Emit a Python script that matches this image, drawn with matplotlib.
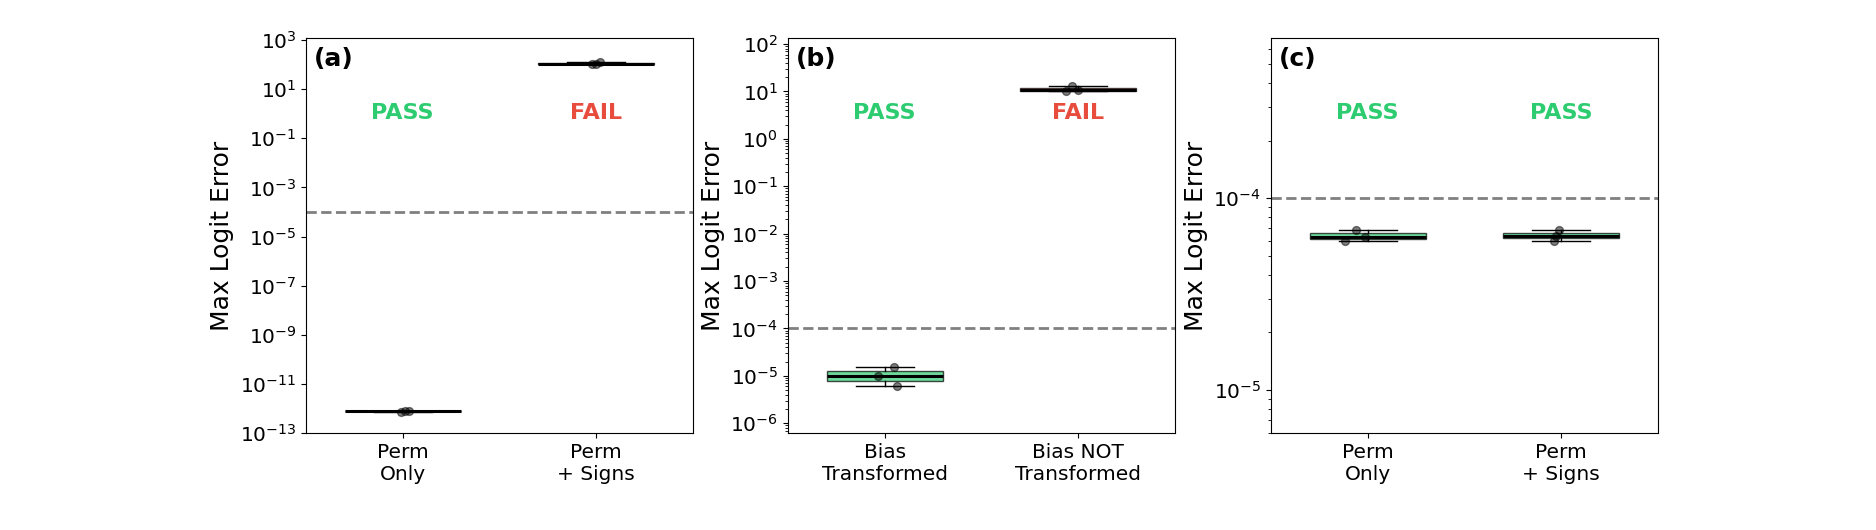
import numpy as np
import matplotlib
matplotlib.use('Agg')
from matplotlib import pyplot as plt
from matplotlib.ticker import NullLocator, LogLocator

# values
labels_a = ['Perm\nOnly', 'Perm\n+ Signs']
perm_only_a = [7.5e-13, 7.7e-13, 7.9e-13]
perm_signs_a = [104.0, 108.0, 128.0]
jitter_a = [[-0.01, 0.01, 0.03], [-0.02, 0.0, 0.02]]
status_a = ['PASS', 'FAIL']

labels_b = ['Bias\nTransformed', 'Bias NOT\nTransformed']
bias_tf_b = [1.52e-5, 9.7e-6, 6.2e-6]
bias_not_b = [10.2, 13.3, 10.6]
jitter_b = [[0.046, -0.036, 0.064], [-0.064, -0.03, 0.0]]
status_b = ['PASS', 'FAIL']

labels_c = ['Perm\nOnly', 'Perm\n+ Signs']
perm_only_c = [6.84e-5, 5.97e-5, 6.27e-5]
perm_signs_c = [6.84e-5, 6.38e-5, 5.97e-5]
jitter_c = [[-0.06, -0.115, -0.012], [-0.014, -0.028, -0.036]]
status_c = ['PASS', 'PASS']

threshold = 1e-4

PASS_COLOR = '#2ecc71'
FAIL_COLOR = '#e74c3c'

plt.rcParams['font.family'] = 'DejaVu Sans'


def draw_panel(ax, groups, jitters, statuses, labels, tag, ylim):
    bp = ax.boxplot(groups, positions=[0, 1], widths=0.6, patch_artist=True,
                    showfliers=False,
                    medianprops=dict(color='black', linewidth=2.2),
                    whiskerprops=dict(color='black', linewidth=1.0),
                    capprops=dict(color='black', linewidth=1.0))
    for box, st in zip(bp['boxes'], statuses):
        box.set_facecolor(PASS_COLOR if st == 'PASS' else FAIL_COLOR)
        box.set_alpha(0.7)
        box.set_edgecolor('black')

    for i, (vals, jit) in enumerate(zip(groups, jitters)):
        ax.scatter(np.array(jit) + i, vals, s=32, color='black',
                   alpha=0.5, zorder=3)

    ax.axhline(threshold, color='gray', linestyle='--', linewidth=2)

    for i, st in enumerate(statuses):
        ax.text(i, 0.81, st, transform=ax.get_xaxis_transform(),
                ha='center', va='center', fontsize=16, fontweight='bold',
                color=PASS_COLOR if st == 'PASS' else FAIL_COLOR)

    ax.text(0.02, 0.947, tag, transform=ax.transAxes, ha='left', va='center',
            fontsize=18, fontweight='bold')

    ax.set_yscale('log')
    ax.set_ylim(ylim)
    ax.set_xlim(-0.5, 1.5)
    ax.set_xticks([0, 1])
    ax.set_xticklabels(labels)
    ax.set_ylabel('Max Logit Error', fontsize=18)
    ax.tick_params(axis='both', labelsize=14.5)


fig = plt.figure(figsize=(18.76, 5.3), dpi=100)

ax_a = fig.add_axes([0.1631, 0.183, 0.2063, 0.745])
ax_b = fig.add_axes([0.4200, 0.183, 0.2063, 0.745])
ax_c = fig.add_axes([0.6775, 0.183, 0.2063, 0.745])

draw_panel(ax_a, [perm_only_a, perm_signs_a], jitter_a, status_a, labels_a,
           '(a)', (1e-13, 1.2e3))
ax_a.set_yticks([10.0 ** e for e in range(3, -14, -2)])
ax_a.yaxis.set_minor_locator(NullLocator())

draw_panel(ax_b, [bias_tf_b, bias_not_b], jitter_b, status_b, labels_b,
           '(b)', (6.2e-7, 1.33e2))
ax_b.yaxis.set_major_locator(LogLocator(base=10, numticks=20))
ax_b.yaxis.set_minor_locator(LogLocator(base=10, subs=np.arange(2, 10),
                                        numticks=20))

draw_panel(ax_c, [perm_only_c, perm_signs_c], jitter_c, status_c, labels_c,
           '(c)', (5.97e-6, 6.84e-4))

fig.savefig('out.png', dpi=100)
